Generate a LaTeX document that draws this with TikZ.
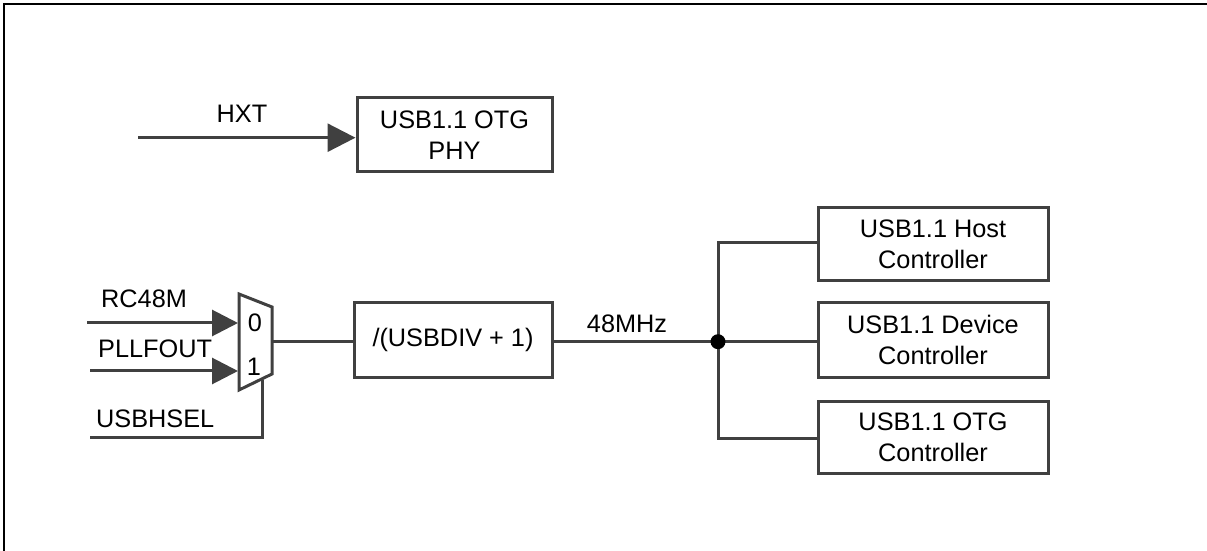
\documentclass[tikz,border=0pt]{standalone}
\usepackage{fontspec}
\setmainfont{Liberation Sans}
\usetikzlibrary{arrows.meta}
\definecolor{ln}{HTML}{404040}
\tikzset{
  x=1bp,y=-1bp,
  wire/.style={draw=ln,line width=3bp},
  arr/.style={wire,-{Triangle[length=#1,width=#1,color=ln]}},
  box/.style={draw=ln,line width=3bp,fill=white,minimum width=#1,align=center,inner sep=0pt,font=\fontsize{25.3bp}{31bp}\selectfont},
  lbl/.style={inner sep=0pt,font=\fontsize{25.3bp}{30bp}\selectfont,anchor=base},
}
\begin{document}
\begin{tikzpicture}
\useasboundingbox (0,0) rectangle (1207,551);
\draw[black,line width=2bp] (4,551) -- (4,4) -- (1207,4);
% boxes
\node[box=195bp,minimum height=74bp] (phy) at (454.5,135) {USB1.1 OTG\\PHY};
\node[box=198bp,minimum height=74bp] (div) at (453,340) {/(USBDIV + 1)};
\node[box=230bp,minimum height=73bp] (host) at (933,244.5) {USB1.1 Host\\Controller};
\node[box=230bp,minimum height=74bp] (dev) at (933,340) {USB1.1 Device\\Controller};
\node[box=230bp,minimum height=71bp] (otg) at (933,437.5) {USB1.1 OTG\\Controller};
% mux
\coordinate (m1) at (239,294);
\coordinate (m2) at (272,307);
\coordinate (m3) at (272,374);
\coordinate (m4) at (239,390);
\draw[wire,line join=miter] (m1) -- (m2) -- (m3) -- (m4) -- cycle;
\node[lbl] (zero) at (255,332) {0};
\node[lbl] (one) at (254,376) {1};
% free ends
\coordinate (hxt) at (138,137.7);
\coordinate (rc) at (87,323);
\coordinate (pll) at (90,371);
\coordinate (sel) at (90,437);
\coordinate (mo) at (272,342);
\coordinate (ma) at (238,323);
\coordinate (mb) at (238,371);
\coordinate (ms) at (262,380);
\coordinate (j) at (718,341.7);
\coordinate (ht) at (718,243);
\coordinate (ob) at (718,438);
% connectors
\draw[arr=28bp] (hxt) -- (hxt -| phy.west);
\draw[arr=26bp] (rc) -- (ma);
\draw[arr=26bp] (pll) -- (mb);
\draw[wire] (sel) -- (sel -| ms) -- (ms);
\draw[wire] (mo) -- (mo -| div.west);
\draw[wire] (j -| div.east) -- (j -| dev.west);
\draw[wire] (ht -| host.west) -- (ht) -- (ob) -- (ob -| otg.west);
\node[circle,fill=black,inner sep=0pt,minimum size=15bp] (dot) at (j) {};
% labels
\node[lbl] (lh) at (242,123) {HXT};
\node[lbl,anchor=base west] (l1) at (101,308) {RC48M};
\node[lbl,anchor=base west] (l2) at (98,358) {PLLFOUT};
\node[lbl,anchor=base west] (l3) at (96,427) {USBHSEL};
\node[lbl] (l4) at (627,333) {48MHz};
\end{tikzpicture}
\end{document}
